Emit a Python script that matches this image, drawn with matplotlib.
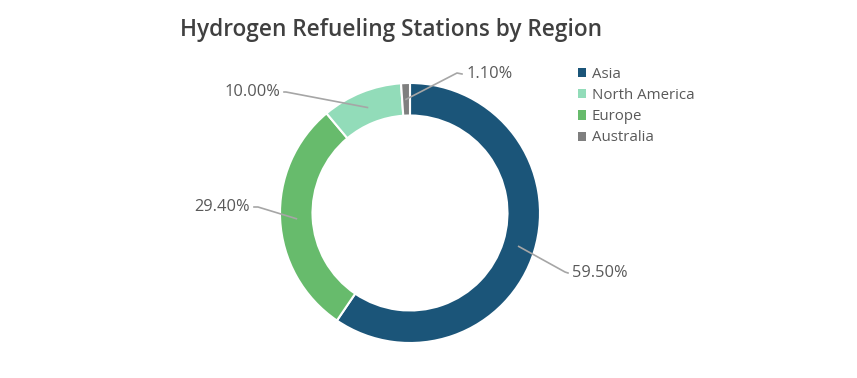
import numpy as np
import matplotlib.pyplot as plt
from matplotlib.patches import Patch

plt.rcParams['font.family'] = ['Open Sans', 'DejaVu Sans']

# data (drawing order, clockwise from 12 o'clock)
regions = ['Asia', 'Europe', 'North America', 'Australia']
shares = [59.5, 29.4, 10.0, 1.1]
colors = ['#1b5579', '#67bb6c', '#92dcb9', '#7f7f7f']
legend_order = ['Asia', 'North America', 'Europe', 'Australia']

# label placement (pixels, y from top): elbow point, text anchor, alignment
label_pos = {
    'Asia': ((565, 272), (572, 273), 'left'),
    'Europe': ((258, 207), (250, 207), 'right'),
    'North America': ((286, 92), (280, 92), 'right'),
    'Australia': ((457, 73), (466, 74), 'left'),
}

W, H = 857, 378
fig = plt.figure(figsize=(W / 100, H / 100), dpi=100)
ax = fig.add_axes([0, 0, 1, 1])

cx, cy, R = 410, H - 213, 130
wedges, _ = ax.pie(shares, colors=colors, startangle=90, counterclock=False,
                   radius=R, center=(cx, cy), frame=True,
                   wedgeprops=dict(width=R * 0.25, edgecolor='white', linewidth=1.5))
ax.set_xlim(0, W)
ax.set_ylim(0, H)
ax.set_aspect('equal')
ax.axis('off')

for w, name, val in zip(wedges, regions, shares):
    ang = np.deg2rad((w.theta1 + w.theta2) / 2)
    r_mid = R - R * 0.125
    ax0, ay0 = cx + r_mid * np.cos(ang), cy + r_mid * np.sin(ang)
    (ex, ey), (tx, ty), ha = label_pos[name]
    end_x = tx + (-4 if ha == 'left' else 4)
    ax.plot([ax0, ex, end_x], [ay0, H - ey, H - ty], color='#a6a6a6', lw=1.2, zorder=3)
    ax.text(tx, H - ty, '%.2f%%' % val, ha=ha, va='center', fontsize=11.8, color='#595959')

fig.text(391 / W, 1 - 30 / H, 'Hydrogen Refueling Stations by Region', ha='center', va='center',
         fontsize=16.3, fontweight='semibold', color='#404040')

cmap = dict(zip(regions, colors))
handles = [Patch(facecolor=cmap[n], label=n) for n in legend_order]
fig.legend(handles=handles, loc='upper left', bbox_to_anchor=(572 / W, 1 - 61 / H),
           frameon=False, fontsize=10.8, handlelength=0.55, handleheight=0.55,
           handletextpad=0.35, labelspacing=0.41, labelcolor='#595959', borderaxespad=0)

fig.savefig('out.png', dpi=100)
